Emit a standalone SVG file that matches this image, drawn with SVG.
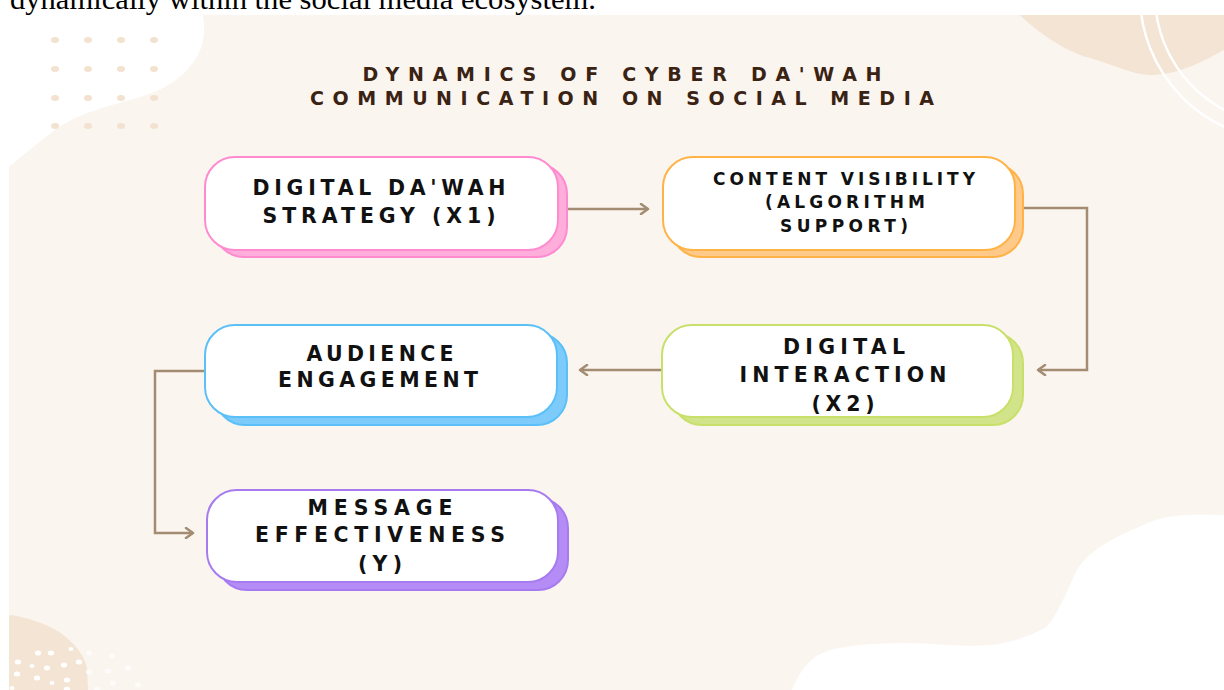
<svg xmlns="http://www.w3.org/2000/svg" width="1224" height="690" viewBox="0 0 1224 690">
  <style>
    .lbl{font-family:"DejaVu Sans","Liberation Sans",sans-serif;font-weight:bold;fill:#111;text-anchor:middle}
    .ttl{font-family:"DejaVu Sans","Liberation Sans",sans-serif;font-weight:bold;fill:#3B2314;font-size:19px;text-anchor:middle}
    .main{fill:#fff;stroke-width:2}
    .conn{fill:none;stroke:#A38C72;stroke-width:2.5}
    .dot{fill:#F3E2CF}
    .wdot{fill:#fff}
  </style>
  <defs>
    <marker id="arr" markerWidth="12" markerHeight="12" refX="9" refY="6" orient="auto" markerUnits="userSpaceOnUse">
      <path d="M2,1 L9,6 L2,11" fill="none" stroke="#A38C72" stroke-width="2.5" stroke-linecap="round" stroke-linejoin="round"/>
    </marker>
  </defs>

  <!-- background -->
  <rect x="0" y="0" width="1224" height="690" fill="#fff"/>
  <rect x="9" y="15" width="1215" height="675" fill="#FAF5EF"/>
  <path d="M1020,15 C1035,30 1065,52 1090,58 C1115,65 1130,74 1150,75 C1180,75 1205,60 1224,50 L1224,15 Z" fill="#F4E4D4"/>
  <circle cx="1285" cy="-5" r="145" fill="none" stroke="#fff" stroke-width="2.5"/>
  <circle cx="1285" cy="-5" r="130" fill="none" stroke="#fff" stroke-width="2.5"/>
  <path d="M9,15 L203,15 C205,30 205,45 195,60 C185,75 170,88 140,97 C110,106 80,112 55,130 C35,145 20,158 9,167 Z" fill="#fff"/>
  <path d="M792,690 C798,675 805,665 815,657 C830,647 860,643 910,643 C940,644 960,647 990,645 C1010,643 1030,636 1045,628 C1055,620 1065,595 1077,570 C1090,548 1120,535 1150,522 C1170,514 1200,514 1224,515 L1224,690 Z" fill="#fff"/>
  <path d="M9,615 C20,616 45,622 62,634 C75,644 84,655 87,668 L88,690 L9,690 Z" fill="#F4E4D4"/>
  <g>
    <ellipse class="dot" cx="55" cy="40" rx="4" ry="3"/><ellipse class="dot" cx="88" cy="40" rx="4" ry="3"/><ellipse class="dot" cx="121" cy="40" rx="4" ry="3"/><ellipse class="dot" cx="154" cy="40" rx="4" ry="3"/>
    <ellipse class="dot" cx="55" cy="69" rx="4" ry="3"/><ellipse class="dot" cx="88" cy="69" rx="4" ry="3"/><ellipse class="dot" cx="121" cy="69" rx="4" ry="3"/><ellipse class="dot" cx="154" cy="69" rx="4" ry="3"/>
    <ellipse class="dot" cx="55" cy="98" rx="4" ry="3"/><ellipse class="dot" cx="88" cy="98" rx="4" ry="3"/><ellipse class="dot" cx="121" cy="98" rx="4" ry="3"/><ellipse class="dot" cx="154" cy="98" rx="4" ry="3"/>
    <ellipse class="dot" cx="55" cy="126" rx="4" ry="3"/><ellipse class="dot" cx="88" cy="126" rx="4" ry="3"/><ellipse class="dot" cx="121" cy="126" rx="4" ry="3"/><ellipse class="dot" cx="154" cy="126" rx="4" ry="3"/>
  </g>
  <g>
    <ellipse class="wdot" cx="38" cy="653" rx="3.2" ry="2.5"/><ellipse class="wdot" cx="51" cy="653" rx="3.2" ry="2.5"/><ellipse class="wdot" cx="71" cy="649" rx="2.5" ry="2"/>
    <ellipse class="wdot" cx="18" cy="662" rx="3.2" ry="2.5"/><ellipse class="wdot" cx="32" cy="666" rx="2.5" ry="2"/><ellipse class="wdot" cx="47" cy="668" rx="3.2" ry="2.5"/>
    <ellipse class="wdot" cx="64" cy="665" rx="3.2" ry="2.5"/><ellipse class="wdot" cx="79" cy="662" rx="3.2" ry="2.5"/><ellipse class="wdot" cx="17" cy="674" rx="3.2" ry="2.5"/>
    <ellipse class="wdot" cx="37" cy="678" rx="3.2" ry="2.5"/><ellipse class="wdot" cx="52" cy="683" rx="2.5" ry="2"/><ellipse class="wdot" cx="67" cy="680" rx="3.2" ry="2.5"/>
    <ellipse class="wdot" cx="67" cy="689" rx="3.2" ry="2.5"/><ellipse class="wdot" cx="12" cy="688" rx="2.5" ry="2"/>
    <ellipse class="wdot" cx="89" cy="653" rx="3.2" ry="2.5" opacity="0.7"/><ellipse class="wdot" cx="112" cy="656" rx="3.2" ry="2.5" opacity="0.7"/>
    <ellipse class="wdot" cx="108" cy="671" rx="3.2" ry="2.5" opacity="0.7"/><ellipse class="wdot" cx="128" cy="668" rx="3.2" ry="2.5" opacity="0.7"/>
    <ellipse class="wdot" cx="89" cy="672" rx="3.2" ry="2.5" opacity="0.7"/><ellipse class="wdot" cx="113" cy="683" rx="3.2" ry="2.5" opacity="0.7"/>
    <ellipse class="wdot" cx="138" cy="685" rx="3.2" ry="2.5" opacity="0.7"/><ellipse class="wdot" cx="97" cy="689" rx="3.2" ry="2.5" opacity="0.7"/>
  </g>

  <text x="10" y="9" font-family="'Liberation Serif','Times New Roman',serif" font-size="29" fill="#000" textLength="586" lengthAdjust="spacingAndGlyphs">dynamically within the social media ecosystem.</text>

  <g id="title">
    <text class="ttl" x="622" y="81" textLength="519" lengthAdjust="spacing">DYNAMICS OF CYBER DA'WAH</text>
    <text class="ttl" x="622" y="105" textLength="624" lengthAdjust="spacing">COMMUNICATION ON SOCIAL MEDIA</text>
  </g>

  <g id="connectors">
    <path class="conn" d="M567,209 L648,209" marker-end="url(#arr)"/>
    <path class="conn" d="M1023,208 L1087,208 L1087,370 L1038,370" marker-end="url(#arr)"/>
    <path class="conn" d="M662,370 L580,370" marker-end="url(#arr)"/>
    <path class="conn" d="M205,371 L155,371 L155,533 L193,533" marker-end="url(#arr)"/>
  </g>

  <g id="node-strategy">
    <rect x="214" y="164" width="353" height="93" rx="30" fill="#FFAEDC" stroke="#FF8AD0" stroke-width="2"/>
    <rect class="main" x="205" y="157" width="353" height="93" rx="30" stroke="#FF8AD0"/>
    <text class="lbl" x="379" y="195" font-size="20.5" textLength="253" lengthAdjust="spacing">DIGITAL DA'WAH</text>
    <text class="lbl" x="379" y="223" font-size="20.5" textLength="233" lengthAdjust="spacing">STRATEGY (X1)</text>
  </g>

  <g id="node-visibility">
    <rect x="671" y="164" width="352" height="93" rx="30" fill="#FFC98A" stroke="#FFB347" stroke-width="2"/>
    <rect class="main" x="663" y="157" width="352" height="93" rx="30" stroke="#FFB347"/>
    <text class="lbl" x="844" y="185" font-size="17" textLength="262" lengthAdjust="spacing">CONTENT VISIBILITY</text>
    <text class="lbl" x="845" y="208" font-size="17" textLength="160" lengthAdjust="spacing">(ALGORITHM</text>
    <text class="lbl" x="844" y="232" font-size="17" textLength="128" lengthAdjust="spacing">SUPPORT)</text>
  </g>

  <g id="node-interaction">
    <rect x="672" y="333" width="351" height="92" rx="30" fill="#D2E48A" stroke="#C8E06A" stroke-width="2"/>
    <rect class="main" x="662" y="325" width="351" height="92" rx="30" stroke="#C8E06A"/>
    <text class="lbl" x="844" y="354" font-size="20.5" textLength="122" lengthAdjust="spacing">DIGITAL</text>
    <text class="lbl" x="843" y="382" font-size="20.5" textLength="207" lengthAdjust="spacing">INTERACTION</text>
    <text class="lbl" x="843" y="411" font-size="20.5" textLength="63" lengthAdjust="spacing">(X2)</text>
  </g>

  <g id="node-engagement">
    <rect x="215" y="333" width="352" height="92" rx="30" fill="#7CCBFA" stroke="#5BC0F8" stroke-width="2"/>
    <rect class="main" x="205" y="325" width="352" height="92" rx="30" stroke="#5BC0F8"/>
    <text class="lbl" x="380" y="361" font-size="20.5" textLength="147" lengthAdjust="spacing">AUDIENCE</text>
    <text class="lbl" x="378" y="387" font-size="20.5" textLength="200" lengthAdjust="spacing">ENGAGEMENT</text>
  </g>

  <g id="node-effectiveness">
    <rect x="217" y="498" width="351" height="92" rx="30" fill="#B58CF5" stroke="#A77BF0" stroke-width="2"/>
    <rect class="main" x="207" y="490" width="351" height="92" rx="30" stroke="#A77BF0"/>
    <text class="lbl" x="380" y="515" font-size="20.5" textLength="145" lengthAdjust="spacing">MESSAGE</text>
    <text class="lbl" x="380" y="542" font-size="20.5" textLength="250" lengthAdjust="spacing">EFFECTIVENESS</text>
    <text class="lbl" x="380" y="571" font-size="20.5" textLength="44" lengthAdjust="spacing">(Y)</text>
  </g>
</svg>
